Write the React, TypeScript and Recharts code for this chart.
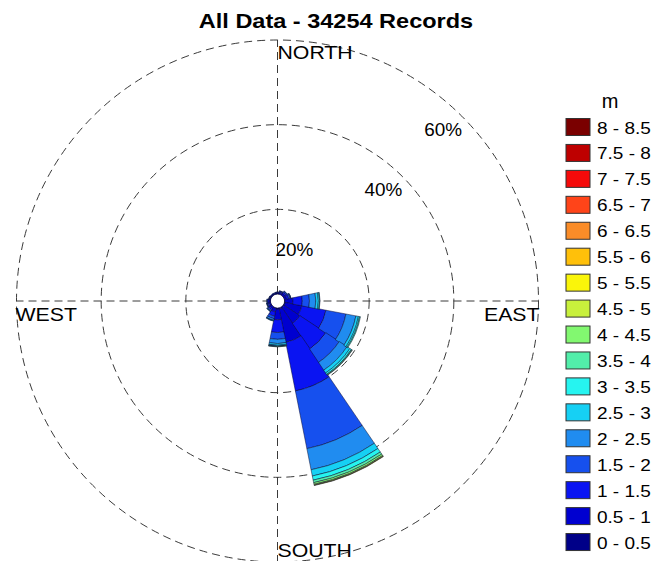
import React from "react";
import {
  RadialBarChart,
  RadialBar,
  PolarGrid,
  PolarAngleAxis,
  PolarRadiusAxis,
  Sector,
} from "recharts";

// ---------- data ----------
const directions = ["N", "NNE", "NE", "ENE", "E", "ESE", "SE", "SSE", "S", "SSW", "SW", "WSW", "W", "WNW", "NW", "NNW"];
const compassLabels: Record<string, string> = { N: "NORTH", E: "EAST", S: "SOUTH", W: "WEST" };

const binLabels = ["0 - 0.5", "0.5 - 1", "1 - 1.5", "1.5 - 2", "2 - 2.5", "2.5 - 3", "3 - 3.5", "3.5 - 4", "4 - 4.5", "4.5 - 5", "5 - 5.5", "5.5 - 6", "6 - 6.5", "6.5 - 7", "7 - 7.5", "7.5 - 8", "8 - 8.5"];
const binColors = ["#000088", "#0000D0", "#0A14F2", "#1650EE", "#208CF0", "#16D0F4", "#26F4F0", "#52EEAA", "#82F870", "#C8F03C", "#FAF50A", "#FFC00A", "#FA8C28", "#FF4419", "#F50A0A", "#BE0000", "#7A0000"];

// percent of records per direction (N ... NNW) for each height bin (m)
const h00_05 = [0.05, 0.05, 0.05, 0.05, 0.1, 0.2, 0.2, 0.3, 0.3, 0.1, 0.05, 0.05, 0.05, 0.05, 0.05, 0.05];
const h05_10 = [0.2, 0.3, 0.4, 0.5, 1.9, 4.0, 4.5, 8.0, 2.5, 0.9, 0.4, 0.3, 0.3, 0.15, 0.15, 0.15];
const h10_15 = [0.15, 0.25, 0.4, 0.5, 2.2, 5.8, 7.3, 11.7, 3.0, 1.0, 0.45, 0.3, 0.3, 0.15, 0.1, 0.1];
const h15_20 = [0.1, 0.15, 0.25, 0.35, 1.7, 4.8, 3.8, 13.9, 1.6, 0.6, 0.3, 0.2, 0.15, 0.1, 0.1, 0.1];
const h20_25 = [0, 0.05, 0.1, 0.15, 1.5, 2.4, 2.2, 5.1, 1.0, 0.4, 0.15, 0.1, 0.1, 0.05, 0, 0];
const h25_30 = [0, 0, 0, 0.05, 0.6, 0.6, 0.8, 1.5, 0.4, 0.1, 0.05, 0.05, 0, 0, 0, 0];
const h30_35 = [0, 0, 0, 0, 0.3, 0.3, 0.4, 1.0, 0.2, 0.1, 0, 0, 0, 0, 0, 0];
const h35_40 = [0, 0, 0, 0, 0.1, 0.2, 0.2, 0.6, 0.1, 0, 0, 0, 0, 0, 0, 0];
const h40_45 = [0, 0, 0, 0, 0, 0, 0.1, 0.4, 0.1, 0, 0, 0, 0, 0, 0, 0];
const h45_50 = [0, 0, 0, 0, 0, 0, 0, 0.2, 0, 0, 0, 0, 0, 0, 0, 0];
const h50_55 = [0, 0, 0, 0, 0, 0, 0, 0.1, 0, 0, 0, 0, 0, 0, 0, 0];
const h55_60 = [0, 0, 0, 0, 0, 0, 0, 0, 0, 0, 0, 0, 0, 0, 0, 0];
const h60_65 = [0, 0, 0, 0, 0, 0, 0, 0, 0, 0, 0, 0, 0, 0, 0, 0];
const h65_70 = [0, 0, 0, 0, 0, 0, 0, 0, 0, 0, 0, 0, 0, 0, 0, 0];
const h70_75 = [0, 0, 0, 0, 0, 0, 0, 0, 0, 0, 0, 0, 0, 0, 0, 0];
const h75_80 = [0, 0, 0, 0, 0, 0, 0, 0, 0, 0, 0, 0, 0, 0, 0, 0];
const h80_85 = [0, 0, 0, 0, 0, 0, 0, 0, 0, 0, 0, 0, 0, 0, 0, 0];

const binSeries = [h00_05, h05_10, h10_15, h15_20, h20_25, h25_30, h30_35, h35_40, h40_45, h45_50, h50_55, h55_60, h60_65, h65_70, h70_75, h75_80, h80_85];
const radiusTicks = [20, 40, 60];
const title = "All Data - 34254 Records";
const unitLabel = "m";

const data = directions.map((d, i) => {
  const row: Record<string, any> = { dir: d };
  binSeries.forEach((s, b) => {
    row["b" + b] = s[i];
  });
  return row;
});

// ---------- styling ----------
const FONT = "'Liberation Sans', Arial, Helvetica, sans-serif";
const SX = 1.12;
const CX = 277.5;
const CY = 301;
const R_IN = 7;
const R_OUT = 261;

const DirTick = (props: any) => {
  const { payload } = props;
  const lbl = compassLabels[payload.value];
  if (!lbl) return <g />;
  let tx = CX;
  let ty = CY;
  let anchor = "start";
  if (payload.value === "N") { tx = CX; ty = CY - R_OUT + 19; }
  if (payload.value === "S") { tx = CX; ty = CY + R_OUT - 5; }
  if (payload.value === "W") { tx = CX - R_OUT - 1; ty = CY + 20; }
  if (payload.value === "E") { tx = CX + R_OUT + 1; ty = CY + 20; anchor = "end"; }
  return (
    <g transform={`translate(${tx},${ty}) scale(${SX},1)`}>
      <text x={0} y={0} textAnchor={anchor} fontSize={19} fontFamily={FONT} fill="#000">{lbl}</text>
    </g>
  );
};

const PctTick = (props: any) => {
  const { x, y, payload } = props;
  const shift = payload.value === radiusTicks[0] ? -29 : 0;
  return (
    <g transform={`translate(${x + shift},${y + 20}) scale(1.08,1)`}>
      <text x={0} y={0} textAnchor="end" fontSize={17.5} fontFamily={FONT} fill="#000">{payload.value}%</text>
    </g>
  );
};

const WedgeShape = (props: any) => {
  const { innerRadius, outerRadius } = props;
  if (!(outerRadius - innerRadius > 0.01)) return <g />;
  return <Sector {...props} />;
};

export default function App() {
  const legendTop = 127;
  const legendStep = 25.94;
  return (
    <div style={{ position: "absolute", left: 0, top: 0, width: 657, height: 561, background: "#fff" }}>
      <RadialBarChart
        width={657}
        height={561}
        cx={CX}
        cy={CY}
        innerRadius={R_IN}
        outerRadius={R_OUT}
        startAngle={78.75}
        endAngle={-281.25}
        layout="centric"
        data={data}
        barCategoryGap={0}
        barGap={0}
        margin={{ top: 0, right: 0, bottom: 0, left: 0 }}
      >
        <PolarGrid gridType="circle" polarAngles={[0, 90, 180, 270]} stroke="#3a3a3a" strokeDasharray="8 5" strokeWidth={1} />
        <PolarAngleAxis type="category" dataKey="dir" tick={DirTick} tickLine={false} axisLine={false} tickSize={0} />
        <PolarRadiusAxis type="number" domain={[0, 60]} ticks={radiusTicks} angle={45} axisLine={false} tickLine={false} tick={PctTick} />
        {binSeries.map((_, b) => (
          <RadialBar
            key={b}
            dataKey={"b" + b}
            stackId="all"
            fill={binColors[b]}
            stroke="#0a0a30"
            strokeWidth={0.5}
            shape={WedgeShape}
            isAnimationActive={false}
          />
        ))}
      </RadialBarChart>
      <svg width={657} height={561} style={{ position: "absolute", left: 0, top: 0, pointerEvents: "none" }}>
        <g transform={`translate(336,28) scale(${SX},1)`}>
          <text x={0} y={0} textAnchor="middle" fontSize={21} fontWeight="bold" fontFamily={FONT} fill="#000">{title}</text>
        </g>
        <text x={610} y={108} textAnchor="middle" fontSize={20} fontFamily={FONT} fill="#000">{unitLabel}</text>
        {binLabels.map((lbl, b) => {
          const row = binLabels.length - 1 - b;
          const yc = legendTop + row * legendStep;
          return (
            <g key={lbl}>
              <rect x={566} y={yc - 8.5} width={24} height={17} fill={binColors[b]} stroke="#333" strokeWidth={1} />
              <g transform={`translate(597,${yc + 6.5}) scale(${SX},1)`}>
                <text x={0} y={0} fontSize={17} fontFamily={FONT} fill="#000">{lbl}</text>
              </g>
            </g>
          );
        })}
      </svg>
    </div>
  );
}
